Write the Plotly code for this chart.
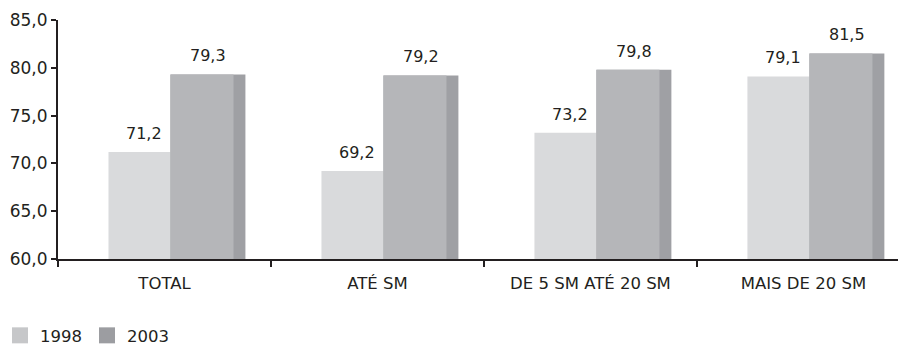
import plotly.graph_objects as go

# Data
categories = ["TOTAL", "ATÉ SM", "DE 5 SM ATÉ 20 SM", "MAIS DE 20 SM"]
values_1998 = [71.2, 69.2, 73.2, 79.1]
values_2003 = [79.3, 79.2, 79.8, 81.5]
series_names = ["1998", "2003"]

FONT = "DejaVu Sans, Verdana, sans-serif"
TXT = "#231f20"

# bar geometry in category units (face / side strip)
OFF_1998, FACE_1998 = -0.263, 0.291
OFF_2003, FACE_2003, FULL_2003 = 0.028, 0.296, 0.352
CAT_PX = 213  # approximate pixel width of one category slot


def fmt(v):
    return f"{v:.1f}".replace(".", ",")


fig = go.Figure()

# 1998 bars
fig.add_trace(go.Bar(
    x=categories, y=values_1998, showlegend=False,
    marker=dict(color="#d9dadc", line=dict(width=0)),
    offset=OFF_1998, width=FACE_1998, name=series_names[0],
))
# 2003 bars: darker side strip behind a lighter face
fig.add_trace(go.Bar(
    x=categories, y=values_2003, showlegend=False,
    marker=dict(color="#9fa0a4", line=dict(width=0)),
    offset=OFF_2003, width=FULL_2003, hoverinfo="skip",
))
fig.add_trace(go.Bar(
    x=categories, y=values_2003, showlegend=False,
    marker=dict(color="#b5b6b9", line=dict(width=0)),
    offset=OFF_2003, width=FACE_2003, name=series_names[1],
))

# legend swatches
for name, col in zip(series_names, ["#c6c7c9", "#9c9da1"]):
    fig.add_trace(go.Scatter(
        x=[None], y=[None], mode="markers", name=name,
        marker=dict(symbol="square", size=16, color=col),
    ))

# value labels above each bar
label_font = dict(family=FONT, size=16, color=TXT)
for cat, v in zip(categories, values_1998):
    fig.add_annotation(
        x=cat, y=v, text=fmt(v), showarrow=False, yanchor="bottom",
        xshift=(OFF_1998 + FACE_1998 / 2) * CAT_PX + 5, yshift=7,
        font=label_font,
    )
for cat, v in zip(categories, values_2003):
    fig.add_annotation(
        x=cat, y=v, text=fmt(v), showarrow=False, yanchor="bottom",
        xshift=(OFF_2003 + FULL_2003 / 2) * CAT_PX, yshift=7,
        font=label_font,
    )

fig.update_layout(
    width=898, height=346,
    margin=dict(l=58, r=0, t=20, b=87),
    barmode="overlay",
    plot_bgcolor="white", paper_bgcolor="white",
    separators=",.",
    font=dict(family=FONT, size=16, color=TXT),
    xaxis=dict(
        type="category", range=[-0.5, 3.444],
        showline=True, linecolor="#231f20", linewidth=2,
        ticks="outside", tickson="boundaries", ticklen=6, tickwidth=2,
        tickcolor="#231f20", showgrid=False, ticklabelstandoff=8,
        tickfont=dict(family=FONT, size=16.5, color=TXT),
    ),
    yaxis=dict(
        range=[60, 85], tickvals=[60, 65, 70, 75, 80, 85], tickformat=".1f",
        showline=True, linecolor="#231f20", linewidth=2,
        ticks="outside", ticklen=5, tickwidth=2, tickcolor="#231f20",
        showgrid=False, zeroline=False,
        tickfont=dict(family=FONT, size=17, color=TXT),
    ),
    legend=dict(
        orientation="h", xref="container", yref="container",
        x=0.0, y=0.03, xanchor="left", yanchor="middle",
        font=dict(family=FONT, size=16.5, color=TXT),
        itemwidth=30, traceorder="normal",
    ),
    showlegend=True,
)

fig.write_html("out.html")
